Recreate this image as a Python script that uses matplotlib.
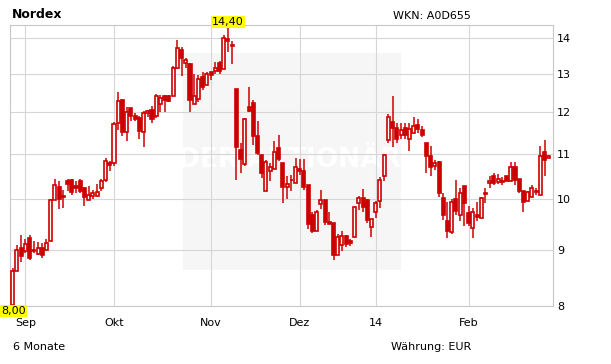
import numpy as np
import pandas as pd
import matplotlib
matplotlib.use('Agg')
import matplotlib.pyplot as plt
from matplotlib.patches import Rectangle

# ---- data ----
opens = [8.02, 8.60, 9.04, 8.98, 9.22, 8.98, 8.91, 9.03, 9.00, 9.17,
         9.99, 10.27, 10.06, 10.39, 10.41, 10.28, 10.39, 10.23, 9.99, 10.06,
         10.06, 10.23, 10.41, 10.78, 10.80, 11.73, 12.31, 11.52, 12.11, 11.90,
         11.85, 11.52, 11.99, 12.06, 11.91, 12.21, 12.41, 12.41, 12.41, 13.15,
         13.66, 13.30, 13.28, 12.21, 12.33, 12.91, 12.71, 13.05, 13.07, 13.30,
         13.14, 13.99, 13.82, 12.60, 11.09, 10.77, 12.14, 12.23, 11.42, 10.97,
         10.18, 10.61, 10.65, 11.14, 10.79, 10.26, 10.41, 10.34, 10.66, 10.62,
         10.30, 9.68, 9.36, 9.91, 9.99, 9.53, 9.52, 8.90, 9.09, 9.26,
         9.16, 9.24, 9.93, 10.03, 9.99, 9.44, 9.74, 9.97, 10.49, 11.32,
         11.76, 11.61, 11.44, 11.61, 11.34, 11.50, 11.68, 11.56, 11.25, 10.96,
         10.72, 10.81, 10.03, 9.56, 9.33, 10.00, 9.68, 10.28, 9.71, 9.42,
         9.67, 9.62, 10.14, 10.34, 10.51, 10.37, 10.39, 10.51, 10.38, 10.71,
         10.44, 10.18, 9.96, 10.05, 10.15, 10.09, 11.04, 10.90]
highs = [8.67, 9.09, 9.28, 9.21, 9.28, 9.16, 9.15, 9.12, 9.21, 10.01,
         10.44, 10.39, 10.20, 10.44, 10.44, 10.39, 10.43, 10.27, 10.29, 10.19,
         10.33, 10.43, 10.91, 10.84, 11.75, 12.52, 12.33, 12.14, 12.11, 11.98,
         11.91, 12.04, 12.06, 12.15, 12.46, 12.44, 12.45, 12.44, 13.21, 13.96,
         13.74, 13.45, 13.30, 13.00, 12.98, 13.06, 13.06, 13.06, 13.33, 13.36,
         14.10, 14.40, 13.92, 12.60, 11.26, 11.86, 12.65, 12.31, 11.77, 10.97,
         10.86, 10.79, 11.30, 11.44, 10.79, 10.49, 10.52, 10.91, 10.87, 10.88,
         10.30, 9.74, 9.78, 10.20, 9.99, 9.74, 9.52, 9.30, 9.35, 9.28,
         9.20, 9.85, 10.06, 10.22, 10.00, 9.60, 9.97, 10.47, 11.00, 11.96,
         12.41, 11.73, 11.73, 11.73, 11.73, 11.87, 11.83, 11.66, 11.25, 11.17,
         10.86, 10.83, 10.13, 9.95, 10.01, 10.41, 10.23, 10.28, 9.86, 9.82,
         9.94, 10.05, 10.23, 10.50, 10.57, 10.55, 10.47, 10.51, 10.81, 10.81,
         10.44, 10.18, 10.18, 10.31, 10.24, 11.17, 11.32, 10.98]
lows = [8.00, 8.60, 8.78, 8.94, 8.81, 8.93, 8.90, 8.84, 8.99, 9.17,
        9.98, 9.80, 9.81, 10.17, 10.09, 10.13, 10.14, 9.86, 9.99, 10.00,
        10.06, 10.17, 10.37, 10.60, 10.72, 11.57, 11.41, 11.30, 11.77, 11.77,
        11.34, 11.16, 11.89, 11.73, 11.85, 12.00, 12.00, 12.27, 12.41, 13.13,
        12.93, 13.17, 12.00, 12.21, 12.25, 12.57, 12.70, 12.84, 12.99, 12.99,
        13.14, 13.60, 13.27, 10.41, 10.56, 10.72, 12.00, 11.20, 10.98, 10.45,
        10.18, 10.38, 10.65, 10.84, 9.93, 10.01, 10.17, 10.34, 10.52, 10.20,
        9.40, 9.32, 9.36, 9.80, 9.48, 9.50, 8.81, 8.90, 8.98, 9.06,
        9.07, 9.24, 9.78, 9.74, 9.52, 9.25, 9.61, 9.82, 10.38, 11.26,
        11.15, 11.26, 11.35, 11.34, 11.07, 11.48, 11.48, 11.39, 10.56, 10.49,
        10.63, 10.04, 9.58, 9.22, 9.30, 9.68, 9.56, 9.45, 9.45, 9.22,
        9.56, 9.61, 9.93, 10.23, 10.30, 10.33, 10.30, 10.38, 10.38, 10.30,
        10.13, 9.73, 9.96, 10.05, 10.09, 10.09, 10.50, 10.90]
closes = [8.60, 9.00, 8.88, 9.10, 8.84, 9.00, 9.04, 8.90, 9.13, 9.99,
          10.31, 10.00, 10.04, 10.32, 10.15, 10.23, 10.17, 10.04, 10.10, 10.13,
          10.15, 10.39, 10.83, 10.74, 11.70, 12.28, 11.52, 12.00, 11.91, 11.82,
          11.54, 11.97, 12.04, 11.83, 12.41, 12.37, 12.31, 12.29, 13.17, 13.71,
          13.43, 13.38, 12.31, 12.41, 12.86, 12.66, 12.99, 12.98, 13.17, 13.07,
          14.00, 13.94, 13.77, 11.15, 10.88, 11.83, 12.02, 11.41, 11.01, 10.56,
          10.82, 10.71, 11.03, 10.88, 10.27, 10.32, 10.42, 10.69, 10.62, 10.26,
          9.50, 9.35, 9.74, 9.99, 9.53, 9.50, 8.90, 9.25, 9.26, 9.11,
          9.13, 9.85, 10.03, 9.85, 9.57, 9.60, 9.93, 10.42, 10.97, 11.87,
          11.61, 11.34, 11.56, 11.43, 11.58, 11.66, 11.58, 11.44, 10.96, 10.69,
          10.78, 10.14, 9.68, 9.35, 9.95, 9.75, 10.14, 9.93, 9.52, 9.74,
          9.64, 10.03, 10.11, 10.39, 10.34, 10.44, 10.37, 10.38, 10.69, 10.42,
          10.17, 9.95, 10.16, 10.24, 10.18, 10.95, 10.86, 10.96]

y_ticks = [8, 9, 10, 11, 12, 13, 14]
month_labels = ['Sep', 'Okt', 'Nov', 'Dez', '14', 'Feb']
month_numbers = [9, 10, 11, 12, 1, 2]
holidays = ['2013-12-24', '2013-12-25', '2013-12-26', '2013-12-31', '2014-01-01']
start_date, end_date = '2013-08-28', '2014-02-28'

title = 'Nordex'
wkn_text = 'WKN: A0D655'
period_text = '6 Monate'
currency_text = 'Währung: EUR'
watermark = 'DER AKTIONÄR'

# ---- calendar (trading days) ----
days = pd.bdate_range(start_date, end_date)
days = days[~days.isin(pd.to_datetime(holidays))]
n = len(opens)
x = np.arange(n)
month_pos = [int(np.argmax(days.month == m)) for m in month_numbers]

o = np.array(opens); h = np.array(highs); l = np.array(lows); c = np.array(closes)

RED = '#cc0000'
GRID = '#d6d6d6'

W, H = 611, 364
fig = plt.figure(figsize=(W / 100, H / 100), dpi=100)
fig.patch.set_facecolor('white')
ax = fig.add_axes([10 / W, 58 / H, 543 / W, 281 / H])
ax.set_yscale('log')
ymin, ymax = l.min(), h.max()
ax.set_ylim(ymin, ymax)
ax.set_xlim(-0.64, n - 0.0)

# watermark box
ax.add_patch(Rectangle((0.3186, 0.128), 0.4014, 0.772, transform=ax.transAxes,
                       facecolor='#f6f6f6', edgecolor='none', zorder=0.5))
ax.text(0.515, 0.52, watermark, transform=ax.transAxes, ha='center', va='center',
        fontsize=19, fontweight='bold', color='white', zorder=0.8,
        family=['Liberation Sans Narrow', 'DejaVu Sans'])

# grid
for t in y_ticks[1:]:
    ax.axhline(t, color=GRID, lw=0.8, zorder=1)
for p in month_pos:
    ax.axvline(p, color=GRID, lw=0.8, zorder=1)

# candles
ax.vlines(x, l, h, color=RED, lw=1.1, zorder=3)
up = c >= o
bw = 0.72
ax.bar(x[up], c[up] - o[up], bottom=o[up], width=bw, facecolor='white',
       edgecolor=RED, linewidth=1.2, zorder=4)
ax.bar(x[~up], o[~up] - c[~up], bottom=c[~up], width=bw, facecolor=RED,
       edgecolor=RED, linewidth=1.2, zorder=4)

# axes styling
for s in ax.spines.values():
    s.set_color('#c8c8c8')
    s.set_linewidth(0.8)
ax.yaxis.tick_right()
ax.set_yticks(y_ticks, labels=[str(t) for t in y_ticks])
ax.set_yticks([], minor=True)
ax.set_xticks(month_pos, labels=month_labels)
ax.tick_params(axis='y', length=0, pad=3, labelsize=8)
ax.tick_params(axis='x', length=0, pad=9, labelsize=8)

# min / max labels
imax = int(np.argmax(h)); imin = int(np.argmin(l))
fmt = lambda v: f'{v:.2f}'.replace('.', ',')
ax.annotate(fmt(h[imax]), xy=(imax, 1.0), xycoords=('data', 'axes fraction'),
            xytext=(0, 2.2), textcoords='offset points', ha='center', va='center',
            fontsize=8, bbox=dict(boxstyle='square,pad=0.1', fc='#ffff00', ec='none'),
            annotation_clip=False, zorder=6)
ax.annotate(fmt(l[imin]), xy=(imin, 0.0), xycoords=('data', 'axes fraction'),
            xytext=(0.5, -3.6), textcoords='offset points', ha='center', va='center',
            fontsize=8, bbox=dict(boxstyle='square,pad=0.1', fc='#ffff00', ec='none'),
            annotation_clip=False, zorder=6)

# header / footer texts
fig.text(12 / W, 1 - 14.5 / H, title, fontsize=9, fontweight='bold', ha='left', va='center')
fig.text(471 / W, 1 - 16 / H, wkn_text, fontsize=8, ha='right', va='center')
fig.text(13 / W, 1 - 346.7 / H, period_text, fontsize=8, ha='left', va='center')
fig.text(471 / W, 1 - 346.7 / H, currency_text, fontsize=8, ha='right', va='center')

fig.savefig('out.png', dpi=100, facecolor='white')
